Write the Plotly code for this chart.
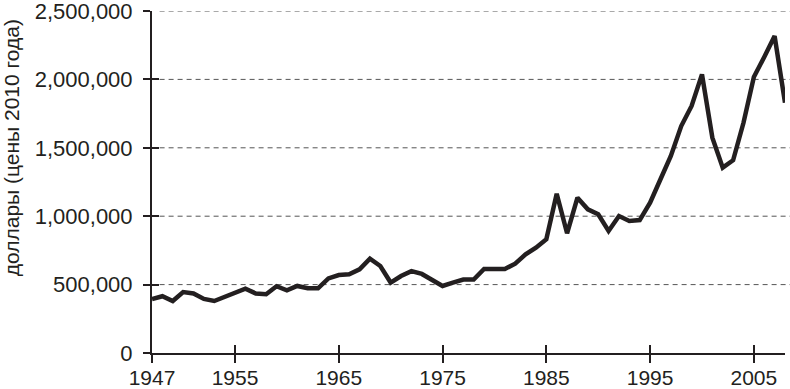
import plotly.graph_objects as go

years = list(range(1947, 2009))
values = [
    395000, 415000, 380000, 445000, 435000, 395000, 380000, 410000, 445000, 470000,
    435000, 430000, 488000, 458000, 490000, 473000, 473000, 545000, 570000, 575000,
    612000, 690000, 636000, 515000, 563000, 598000, 578000, 531000, 490000, 514000,
    537000, 537000, 614000, 614000, 614000, 653000, 721000, 770000, 831000, 1164000,
    875000, 1135000, 1050000, 1014000, 892000, 1001000, 965000, 972000, 1099000, 1270000,
    1440000, 1659000, 1806000, 2037000, 1574000, 1355000, 1409000, 1683000, 2018000, 2164000,
    2317000, 1830000,
]
x_ticks = [1947, 1955, 1965, 1975, 1985, 1995, 2005]
y_ticks = [0, 500000, 1000000, 1500000, 2000000, 2500000]
y_tick_text = ["0", "500,000", "1,000,000", "1,500,000", "2,000,000", "2,500,000"]
y_title = "доллары (цены 2010 года)"

INK = "#231f20"
FAM = "Liberation Sans, Arial, Helvetica, sans-serif"
XFONT = dict(family=FAM, size=21, color=INK)
YFONT = dict(family=FAM, size=22, color=INK)

fig = go.Figure()
fig.add_trace(go.Scatter(
    x=years, y=values, mode="lines",
    line=dict(color=INK, width=4.5, shape="linear"),
    hoverinfo="skip", showlegend=False,
))
# invisible trace on overlay axes (inside half of the crossing ticks)
fig.add_trace(go.Scatter(x=[None], y=[None], xaxis="x2", yaxis="y2",
                         showlegend=False, hoverinfo="skip"))

xr = [1947, 2008]
yr = [0, 2500000]

# dashed horizontal gridlines, running to the right edge of the picture
grid_shapes = [
    dict(type="line", xref="paper", yref="y", x0=0.012, x1=1.01, y0=v, y1=v,
         line=dict(color="#555555", width=1, dash="5px,4px"), layer="below")
    for v in y_ticks[1:]
]

fig.update_layout(
    width=790, height=389,
    margin=dict(l=152, r=5, t=11, b=36, autoexpand=False),
    paper_bgcolor="white", plot_bgcolor="white",
    font=XFONT,
    shapes=grid_shapes,
    xaxis=dict(
        range=xr, tickmode="array", tickvals=x_ticks, ticktext=[str(t) for t in x_ticks],
        showgrid=False, zeroline=False, automargin=False,
        showline=True, linecolor=INK, linewidth=2,
        ticks="outside", ticklen=8, tickwidth=2, tickcolor=INK,
        tickfont=XFONT, ticklabelstandoff=-3, ticklabeloverflow="allow",
    ),
    yaxis=dict(
        range=yr, tickmode="array", tickvals=y_ticks, ticktext=y_tick_text,
        showgrid=False, zeroline=False, automargin=False,
        showline=True, linecolor=INK, linewidth=2,
        ticks="outside", ticklen=7, tickwidth=2, tickcolor=INK,
        tickfont=YFONT, ticklabelstandoff=6, ticklabeloverflow="allow",
    ),
    xaxis2=dict(
        range=xr, overlaying="x", anchor="y2", tickmode="array", tickvals=x_ticks,
        showticklabels=False, showgrid=False, zeroline=False, showline=False,
        ticks="inside", ticklen=8, tickwidth=2, tickcolor=INK,
    ),
    yaxis2=dict(
        range=yr, overlaying="y", anchor="x2", tickmode="array", tickvals=y_ticks,
        showticklabels=False, showgrid=False, zeroline=False, showline=False,
        ticks="inside", ticklen=7, tickwidth=2, tickcolor=INK,
    ),
    annotations=[dict(
        text=y_title, textangle=-90, xref="paper", yref="paper",
        x=-0.222, y=0.6, xanchor="center", yanchor="middle", showarrow=False,
        font=dict(family=FAM, size=21, color=INK),
    )],
)

fig.write_html("out.html", config={"displayModeBar": False},
               post_script="document.body.style.margin='0';")
